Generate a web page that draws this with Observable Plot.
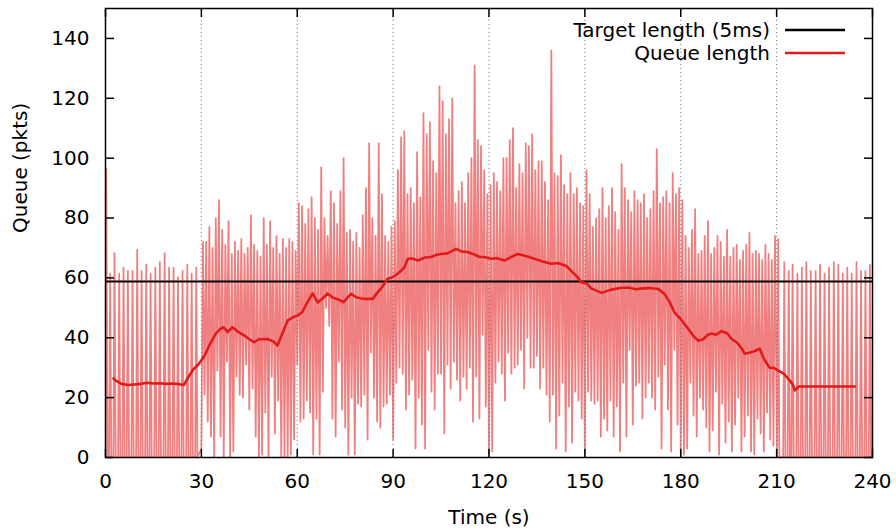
<!DOCTYPE html>
<html><head><meta charset="utf-8">
<script src="https://cdn.jsdelivr.net/npm/d3@7"></script>
<script src="https://cdn.jsdelivr.net/npm/@observablehq/plot@0.6"></script>
<style>body{margin:0;background:#fff;} svg{display:block}</style>
</head><body><div id="chart"></div>
<script>
const xTicks = [0,30,60,90,120,150,180,210,240];
const yTicks = [0,20,40,60,80,100,120,140];
const gridTimes = [30,60,90,120,150,180,210];
const targetLength = 58.8;

// instantaneous queue: isolated spikes 0-30 s
const earlyT = [0.25,1.46,2.82,4.28,5.64,7.0,8.46,9.92,11.3,12.75,14.1,15.6,17.0,18.5,19.9,21.3,22.7,24.1,25.6,26.96,28.4];
const earlyV = [96.5,61.4,68.3,61.4,63.4,62.3,62.3,69.4,62.3,64.4,61.4,63.4,65.3,68.3,63.4,63.4,60.2,62.3,64.4,61.4,63.4];

// instantaneous queue 30-210 s: per-second highs and lows
const denseStart = 30;
const denseHi = [
72,72,77,70,80,86,76,71,79,68,
72,69,73,68,70,81,71,69,67,80,
71,79,70,74,68,73,70,73,72,69,
85,84,78,83,87,80,76,97,80,74,
89,85,78,89,100,75,76,72,75,70,
81,90,105,80,74,105,88,74,72,77,
79,96,107,109,88,90,85,102,87,115,
108,112,99,95,124,119,108,113,120,85,
89,92,85,95,100,131,106,104,96,88,
91,95,92,89,100,100,106,110,90,98,
95,105,104,108,96,99,99,92,86,136,
95,94,101,91,88,95,88,90,85,84,
96,88,77,80,83,90,80,84,90,82,
76,98,90,86,82,89,86,85,88,80,
83,89,103,85,87,89,85,95,88,90,
86,74,70,76,83,68,69,74,79,68,
70,74,72,67,76,67,70,71,66,69,
71,75,68,69,68,66,71,68,66,74];
const denseLo = [
3,21,12,7,0,29,7,0,32,0,
2,27,21,20,31,16,23,7,0,1,
15,0,27,8,19,0,0,0,1,6,
31,12,13,19,15,1,13,1,22,50,
44,13,7,32,16,10,1,20,1,18,
17,21,6,35,20,12,10,17,18,21,
6,25,30,28,16,21,26,3,20,11,
3,36,22,16,28,28,8,31,23,32,
26,19,27,23,30,12,27,13,41,17,
1,2,25,32,28,19,35,28,30,31,
36,23,40,30,30,34,23,30,21,12,
21,3,14,25,2,17,5,22,19,13,
1,22,19,18,19,7,13,9,19,7,
17,2,25,7,36,11,24,25,13,20,
25,20,16,27,3,31,16,2,36,11,
1,1,3,25,14,7,20,16,10,2,
9,22,1,18,5,12,2,11,20,2,
7,14,2,1,13,8,2,15,6,4];

// isolated spikes 210-240 s
const lateT = [210.5,212.4,213.8,215.0,216.5,217.9,219.3,220.7,222.2,223.6,225.0,226.4,227.9,229.3,230.7,232.1,233.5,235.0,236.4,237.8,239.2];
const lateV = [73,65.3,62.3,64.4,61.4,63.4,65.3,62.3,62.3,64.4,61.4,63.4,65.3,64.4,61.4,63.4,61.4,65.3,62.3,62.3,64.4];

// smoothed queue length
const avgT = [2.5,3.5,5,7,9,11,13,15,17,19,
21,23,24.5,26,27.5,29,30,31,32.5,34.5,
36,37,38.2,39.7,41.5,43.4,45,46.5,48,50.7,
52.5,53.8,55,57,59,60.1,61.5,63,64.8,66.4,
67.8,69.5,71,73.2,74.5,76.8,78.5,80,81.5,83.6,
85,86.2,88.3,90,92,93.5,94.6,96,97.7,100,
101.9,103.5,105,107,108.5,109.7,111.5,113.4,115,117.1,
118.5,120.7,122.5,124.8,127,129,131,134.2,136.5,139.5,
141.5,144.2,146,147.5,148.9,150.5,152,155.2,158,161,
163.6,166,168,170,173,175,176.5,178,180,182,
184,185.5,187,188.5,189.6,191,192.8,194.5,196,197.5,
199,200,201.5,203,204.7,206,207.8,209,210.5,212.2,
213.5,215,215.7,216.9,234.5];
const avgV = [26.4,25.5,24.6,24.2,24.4,24.6,25.0,24.7,24.8,24.6,
24.7,24.5,24.2,27,29.5,31,32.5,34,37.5,41.4,
43,43.5,41.9,43.5,42,40.8,39.5,38.5,39.5,39.6,
38.8,37.4,40.5,45.8,47,47.4,48.5,51.5,54.8,51.8,
53,54.8,53.5,52.6,51.9,54.7,53.5,53.1,53,53,
55,56.4,59.7,60.3,61.9,63.5,66.4,66.5,65.8,66.8,
67,67.7,68,68.2,69,69.7,68.8,68.6,68,67,
67,66.4,66.6,65.8,67,68,67.5,66.4,65.6,64.7,
65,64,62,60.5,58.5,58.2,56.5,55,56,56.6,
56.8,56.2,56.5,56.6,56.3,54.5,52,48.5,46.2,43.5,
40.5,39,39.5,41,41.4,41,42.2,41.5,39.5,38.5,
36.5,34.7,35,35.5,36.4,33,30,30,29,28,
26.5,24.5,22.4,23.7,23.7];

const legendLabels = ["Target length (5ms)", "Queue length"];
const red = "#e31a1c", light = "#f08080";

// build the instantaneous series
const inst = [];
function addSpikes(ts, vs) {
  ts.forEach((t, i) => {
    inst.push({t: t - 0.35, q: 0});
    inst.push({t, q: vs[i]});
    inst.push({t: t + 0.35, q: 0});
  });
}
addSpikes(earlyT, earlyV);
denseLo.forEach((lo, i) => {
  inst.push({t: denseStart + i, q: lo});
  inst.push({t: denseStart + i + 0.5, q: denseHi[i]});
});
addSpikes(lateT, lateV);
const avg = avgT.map((t, i) => ({t, q: avgV[i]}));

const font = "DejaVu Sans";
const svg = Plot.plot({
  width: 896, height: 530,
  marginLeft: 105, marginRight: 24, marginTop: 8, marginBottom: 73,
  style: {fontFamily: font, fontSize: "20px", background: "white", color: "black"},
  x: {domain: [0, 240]},
  y: {domain: [0, 150]},
  marks: [
    Plot.line(inst, {x: "t", y: "q", stroke: light, strokeWidth: 1.8, clip: true}),
    Plot.ruleX(gridTimes, {stroke: "#777", strokeDasharray: "1,3", strokeWidth: 1}),
    Plot.ruleY([targetLength], {stroke: "black", strokeWidth: 2.2}),
    Plot.line(avg, {x: "t", y: "q", stroke: red, strokeWidth: 2.6}),
    Plot.frame({stroke: "black", strokeWidth: 1.5}),
    Plot.axisX({anchor: "bottom", ticks: xTicks, tickSize: 0, tickPadding: 16, label: null}),
    Plot.axisX({anchor: "bottom", ticks: xTicks, tickSize: -8, tickFormat: () => "", label: null, strokeWidth: 1.5}),
    Plot.axisX({anchor: "top", ticks: xTicks, tickSize: -8, tickFormat: () => "", label: null, strokeWidth: 1.5}),
    Plot.axisY({anchor: "left", ticks: yTicks, tickSize: 0, tickPadding: 16, label: null}),
    Plot.axisY({anchor: "left", ticks: yTicks, tickSize: -9, tickFormat: () => "", label: null, strokeWidth: 1.5}),
    Plot.axisY({anchor: "right", ticks: yTicks, tickSize: -9, tickFormat: () => "", label: null, strokeWidth: 1.5}),
    Plot.text(["Time (s)"], {frameAnchor: "bottom", dy: 66, text: d => d}),
    Plot.text(["Queue (pkts)"], {frameAnchor: "left", dx: -85, rotate: -90, text: d => d})
  ]
});

// legend (gnuplot style, inside top-right)
const lg = d3.select(svg).append("g").attr("font-family", font).attr("font-size", 20);
[[legendLabels[0], "black", 30], [legendLabels[1], red, 53]].forEach(([label, col, y]) => {
  lg.append("text").attr("x", 770).attr("y", y).attr("text-anchor", "end")
    .attr("dominant-baseline", "central").attr("fill", "black").text(label);
  lg.append("line").attr("x1", 785).attr("x2", 845).attr("y1", y).attr("y2", y)
    .attr("stroke", col).attr("stroke-width", 2.5);
});
document.getElementById("chart").appendChild(svg);
</script>
</body></html>
